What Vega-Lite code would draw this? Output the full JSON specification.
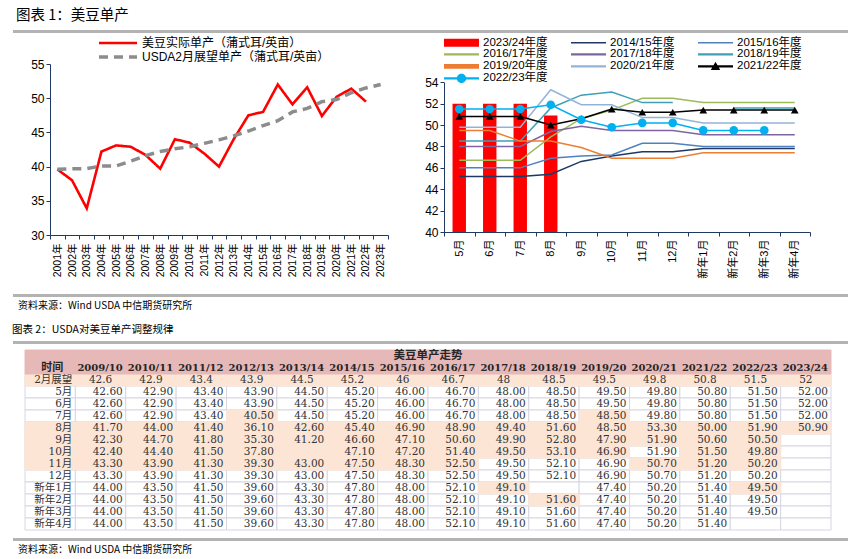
{
  "$schema": "https://vega.github.io/schema/vega-lite/v6.json",
  "padding": {"left": 8, "top": 7, "right": 0, "bottom": 0},
  "background": "#ffffff",
  "config": {
    "view": {"stroke": null},
    "font": "Liberation Sans, Noto Sans CJK SC",
    "axis": {"labelColor": "#000000", "domainColor": "#1f3864", "tickColor": "#1f3864", "grid": false, "labelFont": "Liberation Sans, Noto Sans CJK SC"},
    "legend": {"labelColor": "#000000", "labelFont": "Liberation Sans, Noto Sans CJK SC", "padding": 0, "labelLimit": 400},
    "title": {"color": "#000000", "fontWeight": "normal", "anchor": "start", "font": "Noto Sans CJK SC"}
  },
  "datasets": {
    "yield": [
      {"年份": "2001年", "美豆实际单产（蒲式耳/英亩）": 39.6, "USDA2月展望单产（蒲式耳/英亩）": 39.6},
      {"年份": "2002年", "美豆实际单产（蒲式耳/英亩）": 38.0, "USDA2月展望单产（蒲式耳/英亩）": 39.7},
      {"年份": "2003年", "美豆实际单产（蒲式耳/英亩）": 33.9, "USDA2月展望单产（蒲式耳/英亩）": 39.7},
      {"年份": "2004年", "美豆实际单产（蒲式耳/英亩）": 42.2, "USDA2月展望单产（蒲式耳/英亩）": 40.1},
      {"年份": "2005年", "美豆实际单产（蒲式耳/英亩）": 43.1, "USDA2月展望单产（蒲式耳/英亩）": 40.1},
      {"年份": "2006年", "美豆实际单产（蒲式耳/英亩）": 42.9, "USDA2月展望单产（蒲式耳/英亩）": 40.8},
      {"年份": "2007年", "美豆实际单产（蒲式耳/英亩）": 41.7, "USDA2月展望单产（蒲式耳/英亩）": 41.6},
      {"年份": "2008年", "美豆实际单产（蒲式耳/英亩）": 39.7, "USDA2月展望单产（蒲式耳/英亩）": 42.2},
      {"年份": "2009年", "美豆实际单产（蒲式耳/英亩）": 44.0, "USDA2月展望单产（蒲式耳/英亩）": 42.6},
      {"年份": "2010年", "美豆实际单产（蒲式耳/英亩）": 43.5, "USDA2月展望单产（蒲式耳/英亩）": 42.9},
      {"年份": "2011年", "美豆实际单产（蒲式耳/英亩）": 41.9, "USDA2月展望单产（蒲式耳/英亩）": 43.4},
      {"年份": "2012年", "美豆实际单产（蒲式耳/英亩）": 40.0, "USDA2月展望单产（蒲式耳/英亩）": 43.9},
      {"年份": "2013年", "美豆实际单产（蒲式耳/英亩）": 44.0, "USDA2月展望单产（蒲式耳/英亩）": 44.5},
      {"年份": "2014年", "美豆实际单产（蒲式耳/英亩）": 47.5, "USDA2月展望单产（蒲式耳/英亩）": 45.2},
      {"年份": "2015年", "美豆实际单产（蒲式耳/英亩）": 48.0, "USDA2月展望单产（蒲式耳/英亩）": 46.0},
      {"年份": "2016年", "美豆实际单产（蒲式耳/英亩）": 52.0, "USDA2月展望单产（蒲式耳/英亩）": 46.7},
      {"年份": "2017年", "美豆实际单产（蒲式耳/英亩）": 49.1, "USDA2月展望单产（蒲式耳/英亩）": 48.0},
      {"年份": "2018年", "美豆实际单产（蒲式耳/英亩）": 51.6, "USDA2月展望单产（蒲式耳/英亩）": 48.5},
      {"年份": "2019年", "美豆实际单产（蒲式耳/英亩）": 47.4, "USDA2月展望单产（蒲式耳/英亩）": 49.5},
      {"年份": "2020年", "美豆实际单产（蒲式耳/英亩）": 50.2, "USDA2月展望单产（蒲式耳/英亩）": 49.8},
      {"年份": "2021年", "美豆实际单产（蒲式耳/英亩）": 51.4, "USDA2月展望单产（蒲式耳/英亩）": 50.8},
      {"年份": "2022年", "美豆实际单产（蒲式耳/英亩）": 49.5, "USDA2月展望单产（蒲式耳/英亩）": 51.5},
      {"年份": "2023年", "美豆实际单产（蒲式耳/英亩）": null, "USDA2月展望单产（蒲式耳/英亩）": 52.0}
    ],
    "monthly": [
      {"月份": "5月", "2023/24年度": 52.0, "2014/15年度": 45.2, "2015/16年度": 46.0, "2016/17年度": 46.7, "2017/18年度": 48.0, "2018/19年度": 48.5, "2019/20年度": 49.5, "2020/21年度": 49.8, "2021/22年度": 50.8, "2022/23年度": 51.5},
      {"月份": "6月", "2023/24年度": 52.0, "2014/15年度": 45.2, "2015/16年度": 46.0, "2016/17年度": 46.7, "2017/18年度": 48.0, "2018/19年度": 48.5, "2019/20年度": 49.5, "2020/21年度": 49.8, "2021/22年度": 50.8, "2022/23年度": 51.5},
      {"月份": "7月", "2023/24年度": 52.0, "2014/15年度": 45.2, "2015/16年度": 46.0, "2016/17年度": 46.7, "2017/18年度": 48.0, "2018/19年度": 48.5, "2019/20年度": 48.5, "2020/21年度": 49.8, "2021/22年度": 50.8, "2022/23年度": 51.5},
      {"月份": "8月", "2023/24年度": 50.9, "2014/15年度": 45.4, "2015/16年度": 46.9, "2016/17年度": 48.9, "2017/18年度": 49.4, "2018/19年度": 51.6, "2019/20年度": 48.5, "2020/21年度": 53.3, "2021/22年度": 50.0, "2022/23年度": 51.9},
      {"月份": "9月", "2023/24年度": null, "2014/15年度": 46.6, "2015/16年度": 47.1, "2016/17年度": 50.6, "2017/18年度": 49.9, "2018/19年度": 52.8, "2019/20年度": 47.9, "2020/21年度": 51.9, "2021/22年度": 50.6, "2022/23年度": 50.5},
      {"月份": "10月", "2023/24年度": null, "2014/15年度": 47.1, "2015/16年度": 47.2, "2016/17年度": 51.4, "2017/18年度": 49.5, "2018/19年度": 53.1, "2019/20年度": 46.9, "2020/21年度": 51.9, "2021/22年度": 51.5, "2022/23年度": 49.8},
      {"月份": "11月", "2023/24年度": null, "2014/15年度": 47.5, "2015/16年度": 48.3, "2016/17年度": 52.5, "2017/18年度": 49.5, "2018/19年度": 52.1, "2019/20年度": 46.9, "2020/21年度": 50.7, "2021/22年度": 51.2, "2022/23年度": 50.2},
      {"月份": "12月", "2023/24年度": null, "2014/15年度": 47.5, "2015/16年度": 48.3, "2016/17年度": 52.5, "2017/18年度": 49.5, "2018/19年度": 52.1, "2019/20年度": 46.9, "2020/21年度": 50.7, "2021/22年度": 51.2, "2022/23年度": 50.2},
      {"月份": "新年1月", "2023/24年度": null, "2014/15年度": 47.8, "2015/16年度": 48.0, "2016/17年度": 52.1, "2017/18年度": 49.1, "2018/19年度": null, "2019/20年度": 47.4, "2020/21年度": 50.2, "2021/22年度": 51.4, "2022/23年度": 49.5},
      {"月份": "新年2月", "2023/24年度": null, "2014/15年度": 47.8, "2015/16年度": 48.0, "2016/17年度": 52.1, "2017/18年度": 49.1, "2018/19年度": 51.6, "2019/20年度": 47.4, "2020/21年度": 50.2, "2021/22年度": 51.4, "2022/23年度": 49.5},
      {"月份": "新年3月", "2023/24年度": null, "2014/15年度": 47.8, "2015/16年度": 48.0, "2016/17年度": 52.1, "2017/18年度": 49.1, "2018/19年度": 51.6, "2019/20年度": 47.4, "2020/21年度": 50.2, "2021/22年度": 51.4, "2022/23年度": 49.5},
      {"月份": "新年4月", "2023/24年度": null, "2014/15年度": 47.8, "2015/16年度": 48.0, "2016/17年度": 52.1, "2017/18年度": 49.1, "2018/19年度": 51.6, "2019/20年度": 47.4, "2020/21年度": 50.2, "2021/22年度": 51.4, "2022/23年度": null}
    ],
    "tbl": [
      {"时间": "2月展望", "2009/10": "42.6", "2010/11": "42.9", "2011/12": "43.4", "2012/13": "43.9", "2013/14": "44.5", "2014/15": "45.2", "2015/16": "46", "2016/17": "46.7", "2017/18": "48", "2018/19": "48.5", "2019/20": "49.5", "2020/21": "49.8", "2021/22": "50.8", "2022/23": "51.5", "2023/24": "52"},
      {"时间": "5月", "2009/10": "42.60", "2010/11": "42.90", "2011/12": "43.40", "2012/13": "43.90", "2013/14": "44.50", "2014/15": "45.20", "2015/16": "46.00", "2016/17": "46.70", "2017/18": "48.00", "2018/19": "48.50", "2019/20": "49.50", "2020/21": "49.80", "2021/22": "50.80", "2022/23": "51.50", "2023/24": "52.00"},
      {"时间": "6月", "2009/10": "42.60", "2010/11": "42.90", "2011/12": "43.40", "2012/13": "43.90", "2013/14": "44.50", "2014/15": "45.20", "2015/16": "46.00", "2016/17": "46.70", "2017/18": "48.00", "2018/19": "48.50", "2019/20": "49.50", "2020/21": "49.80", "2021/22": "50.80", "2022/23": "51.50", "2023/24": "52.00"},
      {"时间": "7月", "2009/10": "42.60", "2010/11": "42.90", "2011/12": "43.40", "2012/13": "40.50", "2013/14": "44.50", "2014/15": "45.20", "2015/16": "46.00", "2016/17": "46.70", "2017/18": "48.00", "2018/19": "48.50", "2019/20": "48.50", "2020/21": "49.80", "2021/22": "50.80", "2022/23": "51.50", "2023/24": "52.00"},
      {"时间": "8月", "2009/10": "41.70", "2010/11": "44.00", "2011/12": "41.40", "2012/13": "36.10", "2013/14": "42.60", "2014/15": "45.40", "2015/16": "46.90", "2016/17": "48.90", "2017/18": "49.40", "2018/19": "51.60", "2019/20": "48.50", "2020/21": "53.30", "2021/22": "50.00", "2022/23": "51.90", "2023/24": "50.90"},
      {"时间": "9月", "2009/10": "42.30", "2010/11": "44.70", "2011/12": "41.80", "2012/13": "35.30", "2013/14": "41.20", "2014/15": "46.60", "2015/16": "47.10", "2016/17": "50.60", "2017/18": "49.90", "2018/19": "52.80", "2019/20": "47.90", "2020/21": "51.90", "2021/22": "50.60", "2022/23": "50.50", "2023/24": ""},
      {"时间": "10月", "2009/10": "42.40", "2010/11": "44.40", "2011/12": "41.50", "2012/13": "37.80", "2013/14": "", "2014/15": "47.10", "2015/16": "47.20", "2016/17": "51.40", "2017/18": "49.50", "2018/19": "53.10", "2019/20": "46.90", "2020/21": "51.90", "2021/22": "51.50", "2022/23": "49.80", "2023/24": ""},
      {"时间": "11月", "2009/10": "43.30", "2010/11": "43.90", "2011/12": "41.30", "2012/13": "39.30", "2013/14": "43.00", "2014/15": "47.50", "2015/16": "48.30", "2016/17": "52.50", "2017/18": "49.50", "2018/19": "52.10", "2019/20": "46.90", "2020/21": "50.70", "2021/22": "51.20", "2022/23": "50.20", "2023/24": ""},
      {"时间": "12月", "2009/10": "43.30", "2010/11": "43.90", "2011/12": "41.30", "2012/13": "39.30", "2013/14": "43.00", "2014/15": "47.50", "2015/16": "48.30", "2016/17": "52.50", "2017/18": "49.50", "2018/19": "52.10", "2019/20": "46.90", "2020/21": "50.70", "2021/22": "51.20", "2022/23": "50.20", "2023/24": ""},
      {"时间": "新年1月", "2009/10": "44.00", "2010/11": "43.50", "2011/12": "41.50", "2012/13": "39.60", "2013/14": "43.30", "2014/15": "47.80", "2015/16": "48.00", "2016/17": "52.10", "2017/18": "49.10", "2018/19": "", "2019/20": "47.40", "2020/21": "50.20", "2021/22": "51.40", "2022/23": "49.50", "2023/24": ""},
      {"时间": "新年2月", "2009/10": "44.00", "2010/11": "43.50", "2011/12": "41.50", "2012/13": "39.60", "2013/14": "43.30", "2014/15": "47.80", "2015/16": "48.00", "2016/17": "52.10", "2017/18": "49.10", "2018/19": "51.60", "2019/20": "47.40", "2020/21": "50.20", "2021/22": "51.40", "2022/23": "49.50", "2023/24": ""},
      {"时间": "新年3月", "2009/10": "44.00", "2010/11": "43.50", "2011/12": "41.50", "2012/13": "39.60", "2013/14": "43.30", "2014/15": "47.80", "2015/16": "48.00", "2016/17": "52.10", "2017/18": "49.10", "2018/19": "51.60", "2019/20": "47.40", "2020/21": "50.20", "2021/22": "51.40", "2022/23": "49.50", "2023/24": ""},
      {"时间": "新年4月", "2009/10": "44.00", "2010/11": "43.50", "2011/12": "41.50", "2012/13": "39.60", "2013/14": "43.30", "2014/15": "47.80", "2015/16": "48.00", "2016/17": "52.10", "2017/18": "49.10", "2018/19": "51.60", "2019/20": "47.40", "2020/21": "50.20", "2021/22": "51.40", "2022/23": "", "2023/24": ""}
    ],
    "hl": [
      {"时间": "2月展望", "列": ["时间", "2009/10", "2010/11", "2011/12", "2012/13", "2013/14", "2014/15", "2015/16", "2016/17", "2017/18", "2018/19", "2019/20", "2020/21", "2021/22", "2022/23", "2023/24"]},
      {"时间": "7月", "列": ["2012/13", "2019/20"]},
      {"时间": "8月", "列": ["时间", "2009/10", "2010/11", "2011/12", "2012/13", "2013/14", "2014/15", "2015/16", "2016/17", "2017/18", "2018/19", "2019/20", "2020/21", "2021/22", "2022/23", "2023/24"]},
      {"时间": "9月", "列": ["时间", "2009/10", "2010/11", "2011/12", "2012/13", "2013/14", "2014/15", "2015/16", "2016/17", "2017/18", "2018/19", "2019/20", "2020/21", "2021/22", "2022/23"]},
      {"时间": "10月", "列": ["时间", "2009/10", "2010/11", "2011/12", "2012/13", "2013/14", "2014/15", "2015/16", "2016/17", "2017/18", "2018/19", "2019/20", "2021/22", "2022/23"]},
      {"时间": "11月", "列": ["时间", "2009/10", "2010/11", "2011/12", "2012/13", "2013/14", "2014/15", "2015/16", "2016/17", "2020/21", "2021/22", "2022/23"]},
      {"时间": "新年1月", "列": ["2017/18", "2022/23"]},
      {"时间": "新年2月", "列": ["2018/19"]}
    ],
    "hdr": [
      {"时间": "表头", "列": "时间", "文字": "时间"},
      {"时间": "表头", "列": "2009/10", "文字": "2009/10年度"},
      {"时间": "表头", "列": "2010/11", "文字": "2010/11年度"},
      {"时间": "表头", "列": "2011/12", "文字": "2011/12年度"},
      {"时间": "表头", "列": "2012/13", "文字": "2012/13年度"},
      {"时间": "表头", "列": "2013/14", "文字": "2013/14年度"},
      {"时间": "表头", "列": "2014/15", "文字": "2014/15年度"},
      {"时间": "表头", "列": "2015/16", "文字": "2015/16年度"},
      {"时间": "表头", "列": "2016/17", "文字": "2016/17年度"},
      {"时间": "表头", "列": "2017/18", "文字": "2017/18年度"},
      {"时间": "表头", "列": "2018/19", "文字": "2018/19年度"},
      {"时间": "表头", "列": "2019/20", "文字": "2019/20年度"},
      {"时间": "表头", "列": "2020/21", "文字": "2020/21年度"},
      {"时间": "表头", "列": "2021/22", "文字": "2021/22年度"},
      {"时间": "表头", "列": "2022/23", "文字": "2022/23年度"},
      {"时间": "表头", "列": "2023/24", "文字": "2023/24年度"}
    ]
  },
  "columns": 1,
  "spacing": 3,
  "align": "none",
  "concat": [
    {
      "data": {"values": [{"分隔": 1}]},
      "mark": {"type": "rect", "color": "#b3b3b3"},
      "encoding": {},
      "width": 840,
      "height": 3,
      "title": {"text": "图表 1：美豆单产", "fontSize": 14.5, "offset": 7, "dx": 3}
    },
    {
      "columns": 1,
      "spacing": 15,
      "align": "none",
      "concat": [
        {
          "spacing": 35,
          "align": "none",
          "resolve": {"scale": {"color": "independent", "strokeDash": "independent", "strokeWidth": "independent", "shape": "independent", "stroke": "independent"}, "legend": {"color": "independent", "strokeDash": "independent", "shape": "independent"}},
          "concat": [
            {
              "width": 375,
              "height": 171,
              "data": {"name": "yield"},
              "transform": [{"fold": ["美豆实际单产（蒲式耳/英亩）", "USDA2月展望单产（蒲式耳/英亩）"], "as": ["系列", "单产"]}],
              "mark": {"type": "line"},
              "encoding": {
                "x": {"field": "年份", "type": "ordinal", "sort": null, "scale": {"type": "band", "paddingInner": 0, "paddingOuter": 0, "range": [37, 375]},
                  "axis": {"title": null, "labelAngle": -90, "labelFontSize": 10.5, "tickBand": "extent", "tickSize": 4, "labelPadding": 4}},
                "y": {"field": "单产", "type": "quantitative", "scale": {"domain": [30, 55], "nice": false, "zero": false},
                  "axis": {"title": null, "values": [30, 35, 40, 45, 50, 55], "tickSize": 4, "labelFontSize": 12, "labelPadding": 2, "offset": -37}},
                "color": {"field": "系列", "type": "nominal",
                  "scale": {"domain": ["美豆实际单产（蒲式耳/英亩）", "USDA2月展望单产（蒲式耳/英亩）"], "range": ["#ff0000", "#8c8c8c"]},
                  "legend": {"title": null, "orient": "none", "legendX": 84, "legendY": -28, "symbolSize": 1444, "symbolStrokeWidth": 3, "labelFontSize": 12, "labelOffset": 3, "rowPadding": -2, "clipHeight": 14, "direction": "vertical"}},
                "strokeDash": {"field": "系列", "type": "nominal",
                  "scale": {"domain": ["美豆实际单产（蒲式耳/英亩）", "USDA2月展望单产（蒲式耳/英亩）"], "range": [[1, 0], [9, 6]]}},
                "strokeWidth": {"field": "系列", "type": "ordinal",
                  "scale": {"domain": ["美豆实际单产（蒲式耳/英亩）", "USDA2月展望单产（蒲式耳/英亩）"], "range": [2.6, 3.5]}, "legend": null}
              }
            },
            {
              "width": 366,
              "height": 168,
              "data": {"name": "monthly"},
              "transform": [{"fold": ["2023/24年度", "2014/15年度", "2015/16年度", "2016/17年度", "2017/18年度", "2018/19年度", "2019/20年度", "2020/21年度", "2021/22年度", "2022/23年度"], "as": ["年度", "单产"]}],
              "encoding": {
                "x": {"field": "月份", "type": "ordinal", "sort": null,
                  "scale": {"type": "band", "domain": ["5月", "6月", "7月", "8月", "9月", "10月", "11月", "12月", "新年1月", "新年2月", "新年3月", "新年4月"], "paddingInner": 0, "paddingOuter": 0},
                  "axis": {"title": null, "labelAngle": -90, "labelFontSize": 11, "tickBand": "extent", "tickSize": 4, "labelPadding": 3}},
                "y": {"field": "单产", "type": "quantitative", "scale": {"domain": [40, 54], "nice": false, "zero": false, "range": [168, 18.3]},
                  "axis": {"title": null, "values": [40, 42, 44, 46, 48, 50, 52, 54], "tickSize": 4, "labelFontSize": 12, "labelPadding": 2}}
              },
              "layer": [
                {
                  "transform": [{"filter": "datum['年度'] == '2023/24年度'"}],
                  "mark": {"type": "bar", "color": "#ff0000", "width": {"band": 0.44}},
                  "encoding": {"y2": {"datum": 40}}
                },
                {
                  "transform": [{"filter": "datum['年度'] != '2023/24年度'"}],
                  "mark": {"type": "line", "invalid": "break-paths-show-domains"},
                  "encoding": {
                    "stroke": {"field": "年度", "type": "nominal",
                      "scale": {"domain": ["2014/15年度", "2015/16年度", "2016/17年度", "2017/18年度", "2018/19年度", "2019/20年度", "2020/21年度", "2021/22年度", "2022/23年度"],
                        "range": ["#1f3864", "#4f81bd", "#9bbb59", "#8064a2", "#3f9fb8", "#ed7d31", "#95b3d7", "#000000", "#00b0f0"]}, "legend": null},
                    "strokeWidth": {"field": "年度", "type": "ordinal",
                      "scale": {"domain": ["2014/15年度", "2015/16年度", "2016/17年度", "2017/18年度", "2018/19年度", "2019/20年度", "2020/21年度", "2021/22年度", "2022/23年度"],
                        "range": [1.5, 1.5, 2, 2, 2, 4.5, 2, 2, 2.5]}, "legend": null}
                  }
                },
                {
                  "transform": [{"filter": "false"}],
                  "mark": {"type": "point", "filled": true, "opacity": 1},
                  "encoding": {
                    "color": {"field": "年度", "type": "nominal",
                      "scale": {"domain": ["2023/24年度", "2014/15年度", "2015/16年度", "2016/17年度", "2017/18年度", "2018/19年度", "2019/20年度", "2020/21年度", "2021/22年度", "2022/23年度"],
                        "range": ["#ff0000", "#1f3864", "#4f81bd", "#9bbb59", "#8064a2", "#3f9fb8", "#ed7d31", "#95b3d7", "#000000", "#00b0f0"]},
                      "legend": {"title": null, "orient": "none", "legendX": 0, "legendY": -27.3, "columns": 3, "direction": "horizontal", "symbolSize": 1225, "symbolStrokeWidth": 0, "symbolOpacity": 1, "labelFontSize": 11.5, "labelOffset": 4, "columnPadding": 23, "rowPadding": -1.2, "clipHeight": 11.3}},
                    "shape": {"field": "年度", "type": "nominal",
                      "scale": {"domain": ["2023/24年度", "2014/15年度", "2015/16年度", "2016/17年度", "2017/18年度", "2018/19年度", "2019/20年度", "2020/21年度", "2021/22年度", "2022/23年度"],
                        "range": ["M-1,-0.23H1V0.23H-1Z", "M-1,-0.045H1V0.045H-1Z", "M-1,-0.045H1V0.045H-1Z", "M-1,-0.06H1V0.06H-1Z", "M-1,-0.06H1V0.06H-1Z", "M-1,-0.06H1V0.06H-1Z", "M-1,-0.14H1V0.14H-1Z", "M-1,-0.06H1V0.06H-1Z", "M-1,-0.06H1V0.06H-1Z M0,-0.27L0.27,0.21L-0.27,0.21Z", "M-1,-0.07H1V0.07H-1Z M-0.27,0A0.27,0.27,0,1,1,0.27,0A0.27,0.27,0,1,1,-0.27,0Z"]}}
                  }
                },
                {
                  "transform": [{"filter": "datum['年度'] == '2021/22年度'"}],
                  "mark": {"type": "point", "shape": "triangle-up", "filled": true, "color": "#000000", "size": 60, "opacity": 1}
                },
                {
                  "transform": [{"filter": "datum['年度'] == '2022/23年度'"}],
                  "mark": {"type": "circle", "color": "#00b0f0", "size": 75, "opacity": 1}
                }
              ]
            }
          ]
        },
        {
          "columns": 1,
          "spacing": 13,
          "align": "none",
          "concat": [
            {
              "data": {"values": [{"分隔": 2}]},
              "mark": {"type": "rect", "color": "#b3b3b3"},
              "encoding": {},
              "width": 840,
              "height": 3,
              "title": {"text": "资料来源：Wind USDA 中信期货研究所", "orient": "bottom", "fontSize": 10, "offset": 4, "dx": 5}
            },
            {
              "columns": 1,
              "spacing": 5,
              "align": "none",
              "concat": [
                {
                  "data": {"values": [{"分隔": 3}]},
                  "mark": {"type": "rect", "color": "#b3b3b3"},
                  "encoding": {},
                  "width": 840,
                  "height": 3,
                  "title": {"text": "图表 2：USDA对美豆单产调整规律", "fontSize": 10.5, "offset": 6, "dx": -1}
                },
                {
                  "columns": 1,
                  "spacing": 7,
                  "align": "none",
                  "concat": [
                    {
                      "width": 818,
                      "height": 180,
                      "layer": [
                        {
                          "data": {"name": "tbl"},
                          "transform": [{"fold": ["时间", "2009/10", "2010/11", "2011/12", "2012/13", "2013/14", "2014/15", "2015/16", "2016/17", "2017/18", "2018/19", "2019/20", "2020/21", "2021/22", "2022/23", "2023/24"], "as": ["列", "值"]}],
                          "mark": {"type": "rect", "fill": "#ffffff", "stroke": "#d6d6e2", "strokeWidth": 1},
                          "encoding": {
                            "x": {"field": "列", "type": "ordinal", "scale": {"type": "band", "domain": ["时间", "2009/10", "2010/11", "2011/12", "2012/13", "2013/14", "2014/15", "2015/16", "2016/17", "2017/18", "2018/19", "2019/20", "2020/21", "2021/22", "2022/23", "2023/24"], "paddingInner": 0, "paddingOuter": 0, "range": [12, 818]}, "axis": null},
                            "y": {"field": "时间", "type": "ordinal", "scale": {"type": "band", "domain": ["美豆单产走势", "表头", "2月展望", "5月", "6月", "7月", "8月", "9月", "10月", "11月", "12月", "新年1月", "新年2月", "新年3月", "新年4月"], "paddingInner": 0, "paddingOuter": 0}, "axis": null}
                          }
                        },
                        {
                          "data": {"name": "hl"},
                          "transform": [{"flatten": ["列"]}],
                          "mark": {"type": "rect", "fill": "#fce5d5", "stroke": "#fce5d5", "strokeWidth": 1},
                          "encoding": {
                            "x": {"field": "列", "type": "ordinal"},
                            "y": {"field": "时间", "type": "ordinal"}
                          }
                        },
                        {
                          "data": {"name": "hdr"},
                          "mark": {"type": "rect", "fill": "#e6b8b7", "stroke": "#e6b8b7", "strokeWidth": 1},
                          "encoding": {
                            "x": {"field": "列", "type": "ordinal"},
                            "y": {"field": "时间", "type": "ordinal"}
                          }
                        },
                        {
                          "data": {"name": "hdr"},
                          "mark": {"type": "rect", "fill": "#e6b8b7", "stroke": "#e6b8b7", "strokeWidth": 1},
                          "encoding": {
                            "x": {"field": "列", "type": "ordinal"},
                            "y": {"datum": "美豆单产走势", "type": "ordinal"}
                          }
                        },
                        {
                          "data": {"values": [{"时间": "美豆单产走势"}]},
                          "mark": {"type": "text", "font": "DejaVu Serif, Noto Sans CJK SC", "fontWeight": "bold", "fontSize": 11.5, "color": "#262626", "baseline": "middle", "dx": 6},
                          "encoding": {
                            "y": {"field": "时间", "type": "ordinal"},
                            "text": {"field": "时间"}
                          }
                        },
                        {
                          "data": {"name": "hdr"},
                          "transform": [{"filter": "datum['列'] != '时间'"}],
                          "mark": {"type": "text", "font": "DejaVu Serif, Noto Sans CJK SC", "fontWeight": "bold", "fontSize": 10, "color": "#262626", "align": "left", "baseline": "middle", "dx": 2, "limit": 50, "ellipsis": "\u200b"},
                          "encoding": {
                            "x": {"field": "列", "type": "ordinal", "bandPosition": 0},
                            "y": {"field": "时间", "type": "ordinal"},
                            "text": {"field": "文字"}
                          }
                        },
                        {
                          "data": {"name": "hdr"},
                          "transform": [{"filter": "datum['列'] == '时间'"}],
                          "mark": {"type": "text", "font": "DejaVu Serif, Noto Sans CJK SC", "fontWeight": "bold", "fontSize": 11, "color": "#262626", "align": "center", "baseline": "middle", "dx": 2},
                          "encoding": {
                            "x": {"field": "列", "type": "ordinal"},
                            "y": {"field": "时间", "type": "ordinal"},
                            "text": {"field": "文字"}
                          }
                        },
                        {
                          "data": {"name": "tbl"},
                          "transform": [
                            {"fold": ["时间", "2009/10", "2010/11", "2011/12", "2012/13", "2013/14", "2014/15", "2015/16", "2016/17", "2017/18", "2018/19", "2019/20", "2020/21", "2021/22", "2022/23", "2023/24"], "as": ["列", "值"]},
                            {"filter": "datum['时间'] != '2月展望' || datum['列'] == '时间'"}
                          ],
                          "mark": {"type": "text", "font": "DejaVu Serif, Noto Sans CJK SC", "fontSize": 10.5, "color": "#333333", "align": "right", "baseline": "middle", "dx": -3},
                          "encoding": {
                            "x": {"field": "列", "type": "ordinal", "bandPosition": 1},
                            "y": {"field": "时间", "type": "ordinal"},
                            "text": {"field": "值"}
                          }
                        },
                        {
                          "data": {"name": "tbl"},
                          "transform": [
                            {"fold": ["2009/10", "2010/11", "2011/12", "2012/13", "2013/14", "2014/15", "2015/16", "2016/17", "2017/18", "2018/19", "2019/20", "2020/21", "2021/22", "2022/23", "2023/24"], "as": ["列", "值"]},
                            {"filter": "datum['时间'] == '2月展望'"}
                          ],
                          "mark": {"type": "text", "font": "DejaVu Serif, Noto Sans CJK SC", "fontSize": 10.5, "color": "#333333", "align": "center", "baseline": "middle"},
                          "encoding": {
                            "x": {"field": "列", "type": "ordinal"},
                            "y": {"field": "时间", "type": "ordinal"},
                            "text": {"field": "值"}
                          }
                        }
                      ]
                    },
                    {
                      "data": {"values": [{"分隔": 4}]},
                      "mark": {"type": "rect", "color": "#b3b3b3"},
                      "encoding": {},
                      "width": 840,
                      "height": 3,
                      "title": {"text": "资料来源：Wind USDA 中信期货研究所", "orient": "bottom", "fontSize": 10, "offset": 4, "dx": 5}
                    }
                  ]
                }
              ]
            }
          ]
        }
      ]
    }
  ]
}
